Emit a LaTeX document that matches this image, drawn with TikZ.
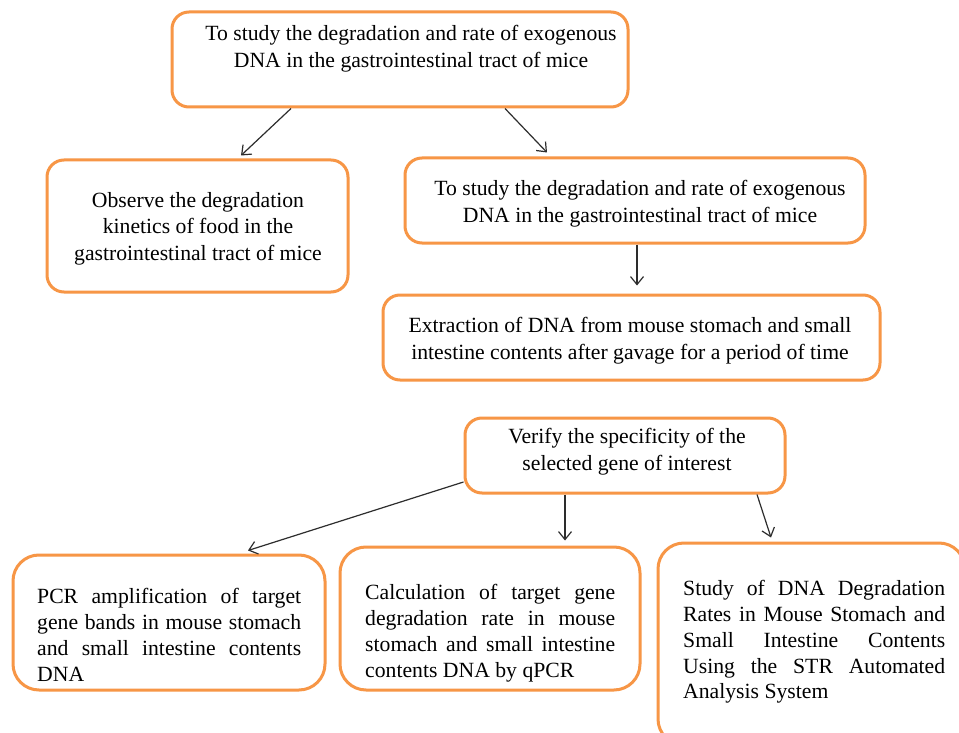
\documentclass[tikz,border=0pt]{standalone}
\usepackage{fontspec}
\setmainfont{Liberation Serif}
\usetikzlibrary{arrows.meta,positioning}
\definecolor{boxorange}{RGB}{247,150,70}
\definecolor{linegray}{RGB}{45,45,45}

\begin{document}
\begin{tikzpicture}[x=1pt,y=-1pt,
    box/.style={draw=boxorange, line width=3pt, rounded corners=17pt, fill=white, inner sep=0pt},
    bigbox/.style={box, rounded corners=26pt},
    txt/.style={inner sep=0pt, align=center, anchor=north, font=\fontsize{21.7}{26.5}\selectfont},
    jtxt/.style={inner sep=0pt, align=justify, anchor=north west, font=\fontsize{21.7}{25.8}\selectfont},
    arrow/.style={draw=linegray, line width=1.2pt, -{Straight Barb[length=8pt,width=13pt]}}]
                \path[use as bounding box, fill=white] (0,0) rectangle (959,733);
                % boxes
                \node[box, minimum width=456pt, minimum height=95pt] (top) at (400,59.5) {};
                \node[box, minimum width=301pt, minimum height=132pt] (obs) at (197.5,226) {};
                \node[box, minimum width=460pt, minimum height=85pt] (study) at (635,200.5) {};
                \node[box, minimum width=497pt, minimum height=85pt] (extr) at (631.5,337.5) {};
                \node[box, minimum width=320pt, minimum height=75pt] (verify) at (625,455.5) {};
                \node[bigbox, minimum width=312pt, minimum height=135pt] (pcr) at (169,622.5) {};
                \node[bigbox, minimum width=300pt, minimum height=143pt] (calc) at (490,618.5) {};
                \node[bigbox, minimum width=307pt, minimum height=202pt] (str) at (811.5,644) {};
                % texts
                \node[txt] (toptext) at (411,25.2) {To study the degradation and rate of exogenous\\DNA in the gastrointestinal tract of mice};
                \node[txt] (obstext) at (198,192.2) {Observe the degradation\\kinetics of food in the\\gastrointestinal tract of mice};
                \node[txt] (studytext) at (640,180.2) {To study the degradation and rate of exogenous\\DNA in the gastrointestinal tract of mice};
                \node[txt] (extrtext) at (630,317.2) {Extraction of DNA from mouse stomach and small\\intestine contents after gavage for a period of time};
                \node[txt] (verifytext) at (627,428.2) {Verify the specificity of the\\selected gene of interest};
                \node[jtxt, text width=264pt] (pcrtext) at (37,588.2) {PCR amplification of target\linebreak gene bands in mouse stomach\linebreak and small intestine contents\linebreak DNA};
                \node[jtxt, text width=250pt] (calctext) at (365,584.2) {Calculation of target gene\linebreak degradation rate in mouse\linebreak stomach and small intestine\linebreak contents DNA by qPCR};
                \node[jtxt, text width=262pt] (strtext) at (683,580.2) {Study of DNA Degradation\linebreak Rates in Mouse Stomach and\linebreak Small Intestine Contents\linebreak Using the STR Automated\linebreak Analysis System};
                % arrows
                \draw[arrow] ([xshift=-109pt]top.south) -- ([xshift=43.5pt,yshift=3pt]obs.north);
                \draw[arrow] ([xshift=105pt]top.south) -- ([xshift=-88pt,yshift=4pt]study.north);
                \draw[arrow] ([xshift=2pt]study.south) -- ([xshift=5.5pt,yshift=8pt]extr.north);
                \draw[arrow] ([yshift=-26.5pt]verify.west) -- ([xshift=79pt,yshift=3pt]pcr.north);
                \draw[arrow] ([xshift=-60pt]verify.south) -- ([xshift=75pt,yshift=5pt]calc.north);
                \draw[arrow] ([xshift=132pt]verify.south) -- ([xshift=-40.5pt,yshift=4pt]str.north);
            \end{tikzpicture}
\end{document}
